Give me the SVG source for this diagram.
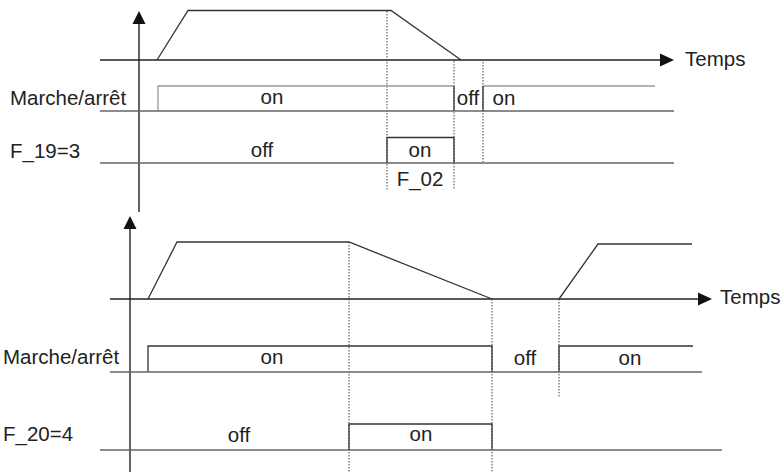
<svg xmlns="http://www.w3.org/2000/svg" width="782" height="472" viewBox="0 0 782 472">
<style>
.ax{stroke:#222;stroke-width:1.4;fill:none}
.ln{stroke:#333;stroke-width:1.3;fill:none}
.lg{stroke:#999;stroke-width:1.3;fill:none}
.lm{stroke:#666;stroke-width:1.3;fill:none}
.dt{stroke:#444;stroke-width:1;stroke-dasharray:1.5 1.5;fill:none}
.ah{fill:#111;stroke:none}
text{font-family:"Liberation Sans",Arial,sans-serif;font-size:20.5px;fill:#222}
.c{text-anchor:middle}
</style>
<g id="top-diagram">
<g id="connectors-top">
<line class="dt" x1="387" y1="11" x2="387" y2="190"/>
<line class="dt" x1="454" y1="61" x2="454" y2="190"/>
<line class="dt" x1="483" y1="62" x2="483" y2="163"/>
<line class="ax" x1="139" y1="22" x2="139" y2="212"/>
<polygon class="ah" points="139,11 132.5,24 145.5,24"/>
<line class="ax" x1="100" y1="60" x2="662" y2="60"/>
<polygon class="ah" points="674,60 660,53.5 660,66.5"/>
<polyline class="ln" points="157,60 188,10.5 391,10.5 461,60"/>
<polyline class="lg" points="158,111 158,86 454,86"/>
<polyline class="ln" points="454,86 454,111"/>
<polyline class="lg" points="655,86 483,86"/>
<line class="ln" x1="483" y1="86" x2="483" y2="111"/>
<line class="lm" x1="100" y1="111" x2="674" y2="111"/>
<polyline class="ln" points="387,163 387,137.5 454,137.5 454,163"/>
<line class="lm" x1="100" y1="163" x2="674" y2="163"/>
</g>
<g id="labels-top">
<text x="685" y="66">Temps</text>
<text x="10" y="105">Marche/arrêt</text>
<text x="10" y="158">F_19=3</text>
<text class="c" x="272" y="104">on</text>
<text class="c" x="468" y="105">off</text>
<text class="c" x="504" y="105">on</text>
<text class="c" x="262" y="157">off</text>
<text class="c" x="420" y="157">on</text>
<text class="c" x="420" y="186">F_02</text>
</g>
</g>
<g id="bottom-diagram">
<g id="connectors-bottom">
<line class="dt" x1="349" y1="242" x2="349" y2="472"/>
<line class="dt" x1="492" y1="299" x2="492" y2="472"/>
<line class="dt" x1="559" y1="299" x2="559" y2="397"/>
<line class="ax" x1="130" y1="227" x2="130" y2="472"/>
<polygon class="ah" points="130,216 123.5,229 136.5,229"/>
<line class="ax" x1="110" y1="299" x2="699" y2="299"/>
<polygon class="ah" points="712,299 698,292.5 698,305.5"/>
<polyline class="ln" points="148,299 177,242 349,242 492,299"/>
<polyline class="ln" points="559,299 598,244 692,244"/>
<polyline class="ln" points="148,372 148,346 492,346 492,372"/>
<polyline class="ln" points="559,372 559,346 693,346"/>
<line class="lm" x1="110" y1="372" x2="702" y2="372"/>
<polyline class="ln" points="349,450 349,424 492,424 492,450"/>
<line class="lm" x1="100" y1="450" x2="722" y2="450"/>
</g>
<g id="labels-bottom">
<text x="720" y="304">Temps</text>
<text x="3" y="364">Marche/arrêt</text>
<text x="3" y="441">F_20=4</text>
<text class="c" x="272" y="364">on</text>
<text class="c" x="525" y="365">off</text>
<text class="c" x="630" y="365">on</text>
<text class="c" x="239" y="442">off</text>
<text class="c" x="421" y="441">on</text>
</g>
</g>
</svg>
